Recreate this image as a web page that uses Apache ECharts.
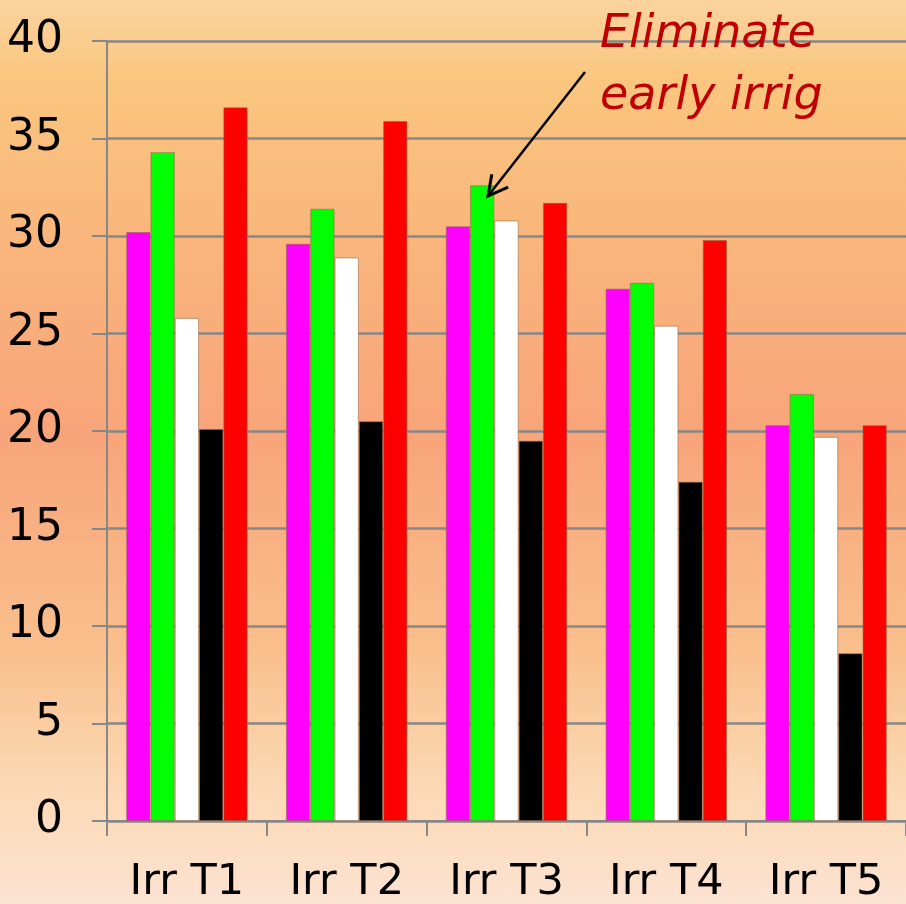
<!DOCTYPE html>
<html>
<head>
<meta charset="utf-8">
<script src="https://cdn.jsdelivr.net/npm/echarts@6/dist/echarts.min.js"></script>
<style>
  html, body { margin: 0; padding: 0; }
  #chart {
    width: 906px;
    height: 904px;
    background: linear-gradient(to bottom,
      #fbd39f 0%, #fac67e 9%, #f9b47c 28%, #f8a47a 48%,
      #f9bf8c 72%, #fbd9b4 87%, #fce2d2 100%);
  }
</style>
</head>
<body>
<div id="chart"></div>
<script>
// categories + series values
const categories = ['Irr T1', 'Irr T2', 'Irr T3', 'Irr T4', 'Irr T5'];
const magentaVals = [30.2, 29.6, 30.5, 27.3, 20.3];
const greenVals   = [34.3, 31.4, 32.6, 27.6, 21.9];
const whiteVals   = [25.8, 28.9, 30.8, 25.4, 19.7];
const blackVals   = [20.1, 20.5, 19.5, 17.4, 8.6];
const redVals     = [36.6, 35.9, 31.7, 29.8, 20.3];
const yTicks = { min: 0, max: 40, interval: 5 };

const noteText = 'Eliminate\nearly irrig';

const font = 'DejaVu Sans, Verdana, sans-serif';
const gray = '#878787';

function barSeries(data, color) {
  return {
    type: 'bar',
    data: data,
    barGap: '0%',
    barCategoryGap: '24%',
    itemStyle: { color: color, borderColor: 'rgba(140,100,70,0.55)', borderWidth: 1 }
  };
}

// annotation arrow (pixel placement, it is not a data mark)
const arrowFrom = [585, 72];
const arrowTo = [488, 196];
function arrowHead(from, to, len, spread) {
  const back = Math.atan2(from[1] - to[1], from[0] - to[0]);
  const a1 = back + spread, a2 = back - spread;
  return [
    [to[0] + len * Math.cos(a1), to[1] + len * Math.sin(a1)],
    to,
    [to[0] + len * Math.cos(a2), to[1] + len * Math.sin(a2)]
  ];
}

const chart = echarts.init(document.getElementById('chart'));

chart.setOption({
  animation: false,
  grid: { left: 107, right: 0, top: 41, bottom: 82, containLabel: false },
  xAxis: {
    type: 'category',
    data: categories,
    boundaryGap: true,
    axisLine: { lineStyle: { color: gray, width: 2 } },
    axisTick: { show: true, length: 15, alignWithLabel: false, lineStyle: { color: gray, width: 2 } },
    axisLabel: { color: '#000', fontFamily: font, fontSize: 43, margin: 40 }
  },
  yAxis: {
    type: 'value',
    min: yTicks.min,
    max: yTicks.max,
    interval: yTicks.interval,
    axisLine: { show: true, lineStyle: { color: gray, width: 2 } },
    axisTick: { show: true, length: 15, lineStyle: { color: gray, width: 2 } },
    axisLabel: { color: '#000', fontFamily: font, fontSize: 44, margin: 44 },
    splitLine: { show: true, lineStyle: { color: gray, width: 2.5 } }
  },
  series: [
    barSeries(magentaVals, '#ff00ff'),
    barSeries(greenVals,   '#00ff00'),
    barSeries(whiteVals,   '#ffffff'),
    barSeries(blackVals,   '#000000'),
    barSeries(redVals,     '#ff0000')
  ],
  graphic: [
    {
      type: 'text',
      left: 600,
      top: 4,
      z: 100,
      style: {
        text: noteText,
        fill: '#bf0000',
        font: 'italic 46px ' + font,
        lineHeight: 62
      }
    },
    {
      type: 'line',
      z: 100,
      shape: { x1: arrowFrom[0], y1: arrowFrom[1], x2: arrowTo[0], y2: arrowTo[1] },
      style: { stroke: '#000', lineWidth: 2.5 }
    },
    {
      type: 'polyline',
      z: 100,
      shape: { points: arrowHead(arrowFrom, arrowTo, 22, 0.49) },
      style: { stroke: '#000', lineWidth: 3, fill: null, lineJoin: 'miter' }
    }
  ]
});
</script>
</body>
</html>
